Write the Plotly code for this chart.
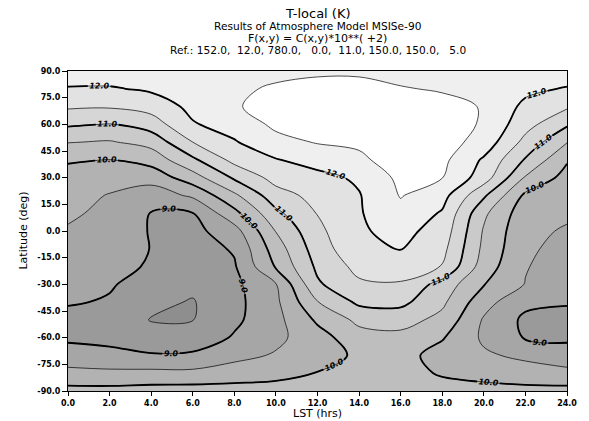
import numpy as np
import plotly.graph_objects as go

# ---------------- data ----------------
lst_hours = [0, 2, 4, 6, 8, 10, 12, 14, 16, 18, 20, 22, 24]
latitudes = [90, 80, 70, 60, 50, 40, 30, 20, 10, 0, -10, -20, -30, -40, -50, -60, -70, -80, -90]

# T-local / 100 K, one list per LST column, latitude 90 -> -90
t_lst00 = [12.3, 11.96, 11.57, 11.07, 10.52, 10.05, 9.82, 9.7, 9.58, 9.45, 9.35, 9.25, 9.15, 9.04, 8.85, 8.92, 9.2, 9.65, 10.15]
t_lst02 = [12.3, 11.95, 11.55, 10.98, 10.46, 9.99, 9.72, 9.47, 9.38, 9.29, 9.2, 9.12, 9.04, 8.96, 8.8, 8.9, 9.1, 9.62, 10.15]
t_lst04 = [12.25, 12.08, 11.7, 11.24, 10.67, 10.2, 9.68, 9.25, 8.98, 8.97, 8.99, 8.96, 8.82, 8.6, 8.48, 8.68, 9.05, 9.63, 10.2]
t_lst06 = [12.35, 12.25, 12.13, 11.96, 11.5, 10.9, 10.28, 9.58, 8.99, 8.85, 8.78, 8.7, 8.6, 8.47, 8.49, 8.7, 9.08, 9.62, 10.22]
t_lst08 = [12.42, 12.43, 12.45, 12.2, 11.96, 11.65, 11.07, 10.4, 9.85, 9.3, 9.05, 8.95, 8.88, 8.85, 8.9, 9.05, 9.35, 9.75, 10.2]
t_lst10 = [12.4, 12.55, 12.7, 12.6, 12.35, 11.97, 11.68, 11.3, 10.88, 10.52, 10.25, 10.05, 9.48, 9.4, 9.35, 9.38, 9.55, 9.85, 10.2]
t_lst12 = [12.45, 12.6, 12.75, 12.7, 12.53, 12.2, 11.85, 11.66, 11.52, 11.38, 11.25, 11.1, 10.93, 10.48, 10.08, 9.8, 9.75, 10.02, 10.25]
t_lst14 = [12.45, 12.6, 12.75, 12.72, 12.57, 12.42, 12.08, 11.97, 11.96, 11.94, 11.88, 11.65, 11.42, 11.1, 10.62, 10.3, 10.1, 10.15, 10.3]
t_lst16 = [12.4, 12.52, 12.7, 12.75, 12.75, 12.7, 12.62, 12.53, 12.35, 12.15, 12.02, 11.75, 11.45, 11.13, 10.7, 10.35, 10.18, 10.18, 10.3]
t_lst18 = [12.35, 12.47, 12.6, 12.72, 12.72, 12.62, 12.51, 12.18, 11.95, 11.8, 11.65, 11.48, 10.8, 10.6, 10.35, 10.04, 9.8, 9.95, 10.2]
t_lst20 = [12.35, 12.42, 12.48, 12.45, 12.3, 11.93, 11.75, 11.08, 10.6, 10.45, 10.38, 10.25, 10.02, 9.68, 9.45, 9.42, 9.57, 9.85, 10.15]
t_lst22 = [12.25, 12.12, 11.88, 11.68, 11.35, 10.95, 10.45, 9.9, 9.7, 9.62, 9.58, 9.53, 9.48, 9.12, 8.9, 8.96, 9.4, 9.72, 10.15]
t_lst24 = [12.3, 11.96, 11.57, 11.07, 10.52, 10.05, 9.82, 9.7, 9.58, 9.45, 9.35, 9.25, 9.15, 9.04, 8.85, 8.92, 9.2, 9.65, 10.15]

x_tick_vals = [0, 2, 4, 6, 8, 10, 12, 14, 16, 18, 20, 22, 24]
x_tick_text = ["0.0", "2.0", "4.0", "6.0", "8.0", "10.0", "12.0", "14.0", "16.0", "18.0", "20.0", "22.0", "24.0"]
y_tick_vals = [90, 75, 60, 45, 30, 15, 0, -15, -30, -45, -60, -75, -90]
y_tick_text = ["90.0", "75.0", "60.0", "45.0", "30.0", "15.0", "0.0", "-15.0", "-30.0", "-45.0", "-60.0", "-75.0", "-90.0"]

title_lines = [
    "T-local (K)",
    "Results of Atmosphere Model MSISe-90",
    "F(x,y) = C(x,y)*10**( +2)",
    "Ref.: 152.0,  12.0, 780.0,   0.0,  11.0, 150.0, 150.0,   5.0",
]

# ---------------- build grid ----------------
cols = [t_lst00, t_lst02, t_lst04, t_lst06, t_lst08, t_lst10, t_lst12,
        t_lst14, t_lst16, t_lst18, t_lst20, t_lst22, t_lst24]
z = np.array(cols).T[::-1]          # rows: latitude ascending
lat_asc = latitudes[::-1]

band_colors = ["#8e8e8e", "#9a9a9a", "#a6a6a6", "#b2b2b2", "#bebebe",
               "#cacaca", "#d6d6d6", "#e2e2e2", "#efefef", "#ffffff"]
n = len(band_colors)
cscale = []
for k, c in enumerate(band_colors):
    lo = max(0.0, (k - 0.5) / (n - 1))
    hi = min(1.0, (k + 0.5) / (n - 1))
    cscale.append([lo, c])
    cscale.append([hi, c])

FONT = "DejaVu Sans"

fig = go.Figure()
fig.add_trace(go.Contour(
    x=lst_hours, y=lat_asc, z=z,
    autocontour=False,
    contours=dict(start=8.5, end=12.5, size=0.5, coloring="fill"),
    colorscale=cscale, showscale=False,
    line=dict(color="black", width=0.7, smoothing=1.0),
    hoverinfo="skip",
))
# integer (labelled) contours; a wide level range (most levels empty) lets
# plotly place several labels along each line, as in the reference
fig.add_trace(go.Contour(
    x=lst_hours, y=lat_asc, z=z,
    autocontour=False,
    contours=dict(start=-16, end=37, size=1.0, coloring="none",
                  showlabels=True, labelformat=".1f",
                  labelfont=dict(family=FONT, size=8, color="black",
                                 weight="bold", style="italic")),
    line=dict(color="black", width=1.8, smoothing=1.0),
    showscale=False, hoverinfo="skip",
))

W, H = 589, 421
L, R, T, B = 68, 16, 71, 30
pw, ph = W - L - R, H - T - B

def py2paper(py):
    return (H - B - py) / ph

annotations = []
title_specs = [(13, 13), (26, 10.6), (38, 11), (50, 10.6)]
for txt, (py, sz) in zip(title_lines, title_specs):
    annotations.append(dict(
        text=txt.replace(" ", "\u00a0"), xref="paper", yref="paper", x=0.5, y=py2paper(py),
        xanchor="center", yanchor="middle", showarrow=False,
        font=dict(family=FONT, size=sz, color="black")))
annotations.append(dict(text="LST (hrs)", xref="paper", yref="paper", x=0.5, y=py2paper(413),
                        xanchor="center", yanchor="middle", showarrow=False,
                        font=dict(family=FONT, size=11, color="black")))
annotations.append(dict(text="Latitude (deg)", xref="paper", yref="paper", x=(22 - L) / pw, y=py2paper(231),
                        xanchor="center", yanchor="middle", showarrow=False, textangle=-90,
                        font=dict(family=FONT, size=11, color="black")))

fig.update_layout(
    width=W, height=H,
    margin=dict(l=L, r=R, t=T, b=B, pad=0),
    paper_bgcolor="white", plot_bgcolor="white",
    showlegend=False,
    annotations=annotations,
    xaxis=dict(range=[0, 24], tickvals=x_tick_vals, ticktext=x_tick_text,
               ticks="outside", ticklen=4, tickcolor="black", showgrid=False, zeroline=False,
               showline=True, linecolor="black", linewidth=1, mirror=True,
               tickfont=dict(family=FONT, size=8, color="black", weight="bold")),
    yaxis=dict(range=[-90, 90], tickvals=y_tick_vals, ticktext=y_tick_text,
               ticks="outside", ticklen=5, tickcolor="black", showgrid=False, zeroline=False,
               showline=True, linecolor="black", linewidth=1, mirror=True,
               tickfont=dict(family=FONT, size=8, color="black", weight="bold")),
)

fig.write_html("out.html")
